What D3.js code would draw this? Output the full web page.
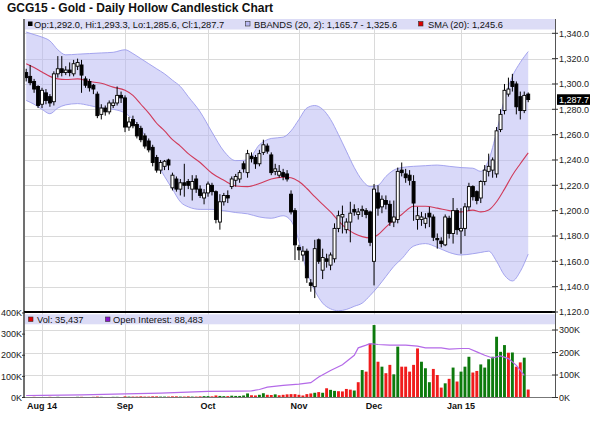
<!DOCTYPE html>
<html><head><meta charset="utf-8">
<script src="https://cdn.jsdelivr.net/npm/d3@7"></script>
<style>
html,body{margin:0;padding:0;background:#fff;}
svg{display:block;font-family:"Liberation Sans",Arial,Helvetica,sans-serif;}
</style></head><body>
<svg id="c" width="590" height="432"></svg>
<script>
// ---------------- DATA ----------------
const title = "GCG15 - Gold - Daily Hollow Candlestick Chart";
const dates = ("2014-07-28 2014-07-29 2014-07-30 2014-07-31 " +
"2014-08-01 2014-08-04 2014-08-05 2014-08-06 2014-08-07 2014-08-08 2014-08-11 2014-08-12 2014-08-13 2014-08-14 2014-08-15 2014-08-18 2014-08-19 2014-08-20 2014-08-21 2014-08-22 2014-08-25 2014-08-26 2014-08-27 2014-08-28 2014-08-29 " +
"2014-09-02 2014-09-03 2014-09-04 2014-09-05 2014-09-08 2014-09-09 2014-09-10 2014-09-11 2014-09-12 2014-09-15 2014-09-16 2014-09-17 2014-09-18 2014-09-19 2014-09-22 2014-09-23 2014-09-24 2014-09-25 2014-09-26 2014-09-29 2014-09-30 " +
"2014-10-01 2014-10-02 2014-10-03 2014-10-06 2014-10-07 2014-10-08 2014-10-09 2014-10-10 2014-10-13 2014-10-14 2014-10-15 2014-10-16 2014-10-17 2014-10-20 2014-10-21 2014-10-22 2014-10-23 2014-10-24 2014-10-27 2014-10-28 2014-10-29 2014-10-30 2014-10-31 " +
"2014-11-03 2014-11-04 2014-11-05 2014-11-06 2014-11-07 2014-11-10 2014-11-11 2014-11-12 2014-11-13 2014-11-14 2014-11-17 2014-11-18 2014-11-19 2014-11-20 2014-11-21 2014-11-24 2014-11-25 2014-11-26 2014-11-28 " +
"2014-12-01 2014-12-02 2014-12-03 2014-12-04 2014-12-05 2014-12-08 2014-12-09 2014-12-10 2014-12-11 2014-12-12 2014-12-15 2014-12-16 2014-12-17 2014-12-18 2014-12-19 2014-12-22 2014-12-23 2014-12-24 2014-12-26 2014-12-29 2014-12-30 2014-12-31 " +
"2015-01-02 2015-01-05 2015-01-06 2015-01-07 2015-01-08 2015-01-09 2015-01-12 2015-01-13 2015-01-14 2015-01-15 2015-01-16 2015-01-20 2015-01-21 2015-01-22 2015-01-23 2015-01-26 2015-01-27 2015-01-28").split(" ");

const open = [1309,1306,1302,1298,
 1284,1293,1290,1286,1308,1312,1309,1311,1308,1314,
 1315,1304,1302,1299,1292,1276,1281,1278,1283,1285,
 1291,1289,1266,1272,1268,1265,1259,1255,1250,1242,
 1232,1235,1240,1218,1225,1217,1222,1223,1217,1225,
 1217,1210,1214,1220,1215,1191,1207,1212,1219,1224,
 1225,1237,1230,1243,1242,1237,1246,1251,1244,1231,
 1228,1230,1229,1213,1200,1171,1165,1168,1143,1140,
 1177,1153,1162,1157,1162,1186,1195,1185,1191,1201,
 1197,1200,1200,1199,1160,1214,1203,1208,1205,1191,
 1193,1232,1229,1228,1223,1193,1193,1190,1198,1195,
 1178,1176,1173,1194,1182,1200,1184,1186,1203,1219,
 1215,1210,1223,1231,1232,1229,1264,1279,1292,1302,
 1300,1290,1279,1292.0];
const high = [1312,1315,1304,1299,
 1297,1296,1292,1310,1322,1322,1314,1317,1319,1320,
 1319,1306,1304,1300,1294,1284,1283,1287,1288,1298,
 1294,1291,1274,1275,1270,1267,1261,1257,1252,1244,
 1240,1240,1241,1230,1227,1225,1237,1225,1228,1228,
 1220,1217,1223,1222,1216,1213,1214,1216,1227,1229,
 1232,1239,1248,1246,1244,1248,1256,1253,1246,1237,
 1236,1233,1232,1216,1202,1173,1172,1170,1146,1177,
 1178,1170,1166,1167,1190,1200,1204,1194,1207,1205,
 1202,1204,1202,1200,1221,1220,1212,1212,1208,1208,
 1234,1238,1233,1232,1228,1203,1199,1198,1203,1197,
 1182,1179,1197,1196,1210,1202,1202,1206,1222,1220,
 1216,1224,1236,1245,1242,1266,1280,1300,1305,1308,
 1302,1294,1294,1293.3];
const low = [1302,1299,1293,1281,
 1281,1284,1282,1283,1305,1306,1307,1306,1306,1311,
 1293,1297,1294,1292,1273,1272,1275,1276,1281,1283,
 1285,1262,1263,1265,1257,1254,1249,1246,1235,1230,
 1229,1232,1232,1216,1215,1212,1211,1217,1208,1214,
 1210,1205,1211,1212,1190,1185,1204,1206,1217,1219,
 1222,1230,1226,1238,1233,1235,1244,1245,1228,1228,
 1226,1224,1223,1197,1161,1161,1160,1143,1136,1131,
 1158,1146,1155,1153,1159,1183,1182,1182,1175,1196,
 1193,1195,1194,1172,1141,1196,1198,1201,1188,1187,
 1190,1227,1222,1220,1192,1185,1188,1186,1187,1176,
 1170,1171,1172,1178,1174,1181,1166,1180,1200,1208,
 1205,1206,1220,1227,1226,1226,1262,1276,1290,1294,
 1276,1272,1277,1285.6];
const close = [1305,1301,1296,1283,
 1295,1287,1285,1308,1312,1309,1311,1309,1316,1317,
 1307,1299,1297,1296,1275,1281,1278,1285,1285,1291,
 1289,1266,1270,1267,1259,1256,1251,1248,1238,1232,
 1238,1239,1236,1228,1217,1222,1220,1220,1223,1217,
 1212,1214,1221,1215,1193,1207,1212,1210,1225,1227,
 1230,1233,1245,1241,1237,1245,1252,1247,1230,1233,
 1231,1227,1225,1199,1173,1169,1168,1147,1141,1170,
 1160,1163,1160,1165,1186,1196,1197,1191,1198,1199,
 1199,1201,1197,1175,1217,1202,1209,1205,1191,1195,
 1231,1230,1226,1224,1206,1196,1195,1194,1195,1179,
 1177,1174,1195,1182,1200,1185,1186,1203,1219,1211,
 1208,1223,1232,1235,1240,1263,1276,1295,1296,1298,
 1282,1279,1291,1287.7];

// volume in thousands of contracts, and up(G)/down(R) colouring
const volume = [2,2,3,2,
 2,2,3,2,3,2,2,2,2,3,3,2,2,3,4,3,2,2,3,3,2,
 5,4,4,4,5,4,4,5,5,4,4,4,5,5,4,4,5,4,4,5,6,
 6,5,9,7,6,6,8,7,7,9,18,10,9,12,19,12,11,14,10,12,14,
 15,15,12,9,15,18,21,24,21,41,
 34,29.5,28,27,38,35,31,68,122,115,
 240,322,159,137,108,145,103,226,137,137,
 115,145,218,159,130,68,127,100,44,63,
 83,133,71,115,137,181,111,118,147,133,
 170,181,270,203,233,199,200,137,156,177,
 35.437];
const volDir = ("RRRR" + "GRRGGRGRGG" + "RRRRRGRGGGR" + "RGRRRRRRRG" + "GRRRGRRGRR" + "GGRRGGRGGG" + "GGRRGGRRGRRR" +
 "RRRRRRGRGR" + "GGRRRRGRGR" + "RGRGRRGGRR" + "RRRGGGRRRG" + "RGRGGGRRGG" + "GGGGGRGRRGR").split("");

// open interest (thousands), read at these bar numbers
const oiBar = [0,4,14,25,34,46,54,57,59,61,65,69,72,74,77,80,83,84,86,87,89,92,96,99,101,105,107,110,112,114,116,118,120,122,124,126];
const oiVal = [9.5,10,12,17.5,21,28.6,30,31.7,38,49,57,63,70,97,128,155,200,235,248,255,251,248,248,243,235,235,229,232,232,216,200,187,197,184,152,105];
const oiLegend = 88483;

// Bollinger bands (20,2) and SMA(20), read at these bar numbers
const indBar = [0,2,4,6,8,10,13,16,19,22,25,27,29,31,33,35,37,39,41,44,47,50,53,56,59,62,65,67,69,71,73,75,77,79,81,83,85,87,89,91,93,95,98,101,104,107,110,113,115,117,119,121,123,125,127];
const bbUpper = [1341,1339,1337,1334,1327,1323,1323.5,1324,1324.5,1325,1327,1324,1320,1316,1312,1308,1303,1298,1290,1278,1262,1247,1239.5,1240,1252,1257,1258,1263,1272,1281,1283,1280,1272,1260,1247,1234,1224,1219,1220,1227,1232,1234,1235,1235.5,1236,1235,1234,1233.5,1231,1240,1262,1288,1306,1317,1325.6];
const bbLower = [1287,1284,1280,1276.5,1281,1283.5,1284.5,1283,1281,1280,1277,1272,1265,1252,1238,1227,1217,1207,1203,1201,1201,1200,1198.5,1197.5,1195,1194,1196,1192,1176,1152,1137,1127,1122.5,1121,1122,1124.5,1127,1133,1140,1148,1156,1162,1172,1174,1171,1167,1165,1166,1167,1168,1160,1149,1144.5,1152,1165.7];
const sma = [1316,1313,1309.5,1306,1304,1303.5,1304,1302,1300.5,1297.5,1295,1291,1284,1277,1269,1263,1256,1251,1245,1238,1229.5,1224,1219.5,1219,1221.5,1225,1226.5,1226,1223,1217.5,1211,1205,1199,1192,1186,1182,1179.5,1178.5,1181,1187,1192.5,1197,1203.5,1203.5,1202,1200,1199,1200.4,1199,1200.5,1207,1217,1228,1237,1245.6];

const priceTicks = [1120,1140,1160,1180,1200,1220,1240,1260,1280,1300,1320,1340];
const monthLabels = ["Aug 14","Sep","Oct","Nov","Dec","Jan 15"];
const volTicks = [0,100,200,300];
const oiTicks = [0,100,200,300,400];

// ---------------- LAYOUT ----------------
const L = 24, R = 555, T = 19, MB = 312, VB = 397.5;
const svg = d3.select("#c");
const fmt1 = d3.format(",.1f"), fmt0 = d3.format(",");

const x = d3.scalePoint().domain(dates).range([26.2, 528.2]);
const y = d3.scaleLinear().domain([1120, 1340]).range([MB, 33.3]);
const yv = d3.scaleLinear().domain([0, 300]).range([VB, 330]);
const yo = d3.scaleLinear().domain([0, 400]).range([VB, 313]);

const defs = svg.append("defs");
defs.append("clipPath").attr("id","cm").append("rect").attr("x",L).attr("y",T).attr("width",R-L).attr("height",MB-T);
defs.append("clipPath").attr("id","cv").append("rect").attr("x",L).attr("y",MB).attr("width",R-L).attr("height",VB-MB);

// title
svg.append("text").attr("x",7).attr("y",11.5).attr("font-size",12).attr("font-weight","bold").attr("fill","#111").text(title);

// grid
const grid = svg.append("g").attr("stroke","#dadada").attr("stroke-width",1);
priceTicks.filter(t=>t>1120).forEach(t=>{
  grid.append("line").attr("x1",L).attr("x2",R).attr("y1",Math.round(y(t))+0.5).attr("y2",Math.round(y(t))+0.5);
});
volTicks.filter(t=>t>0).forEach(t=>{
  grid.append("line").attr("x1",L).attr("x2",R).attr("y1",Math.round(yv(t))+0.5).attr("y2",Math.round(yv(t))+0.5);
});
const monthStarts = dates.filter((d,k)=>k>0 && d.slice(0,7)!==dates[k-1].slice(0,7));
monthStarts.forEach(d=>{
  const xx = Math.round(x(d))+0.5;
  grid.append("line").attr("x1",xx).attr("x2",xx).attr("y1",T).attr("y2",VB);
});

// main panel
const gm = svg.append("g").attr("clip-path","url(#cm)");
const ind = indBar.map((b,k)=>({x:x(dates[b]), u:bbUpper[k], l:bbLower[k], s:sma[k]}));
gm.append("path").datum(ind)
  .attr("d", d3.area().x(d=>d.x).y0(d=>y(d.l)).y1(d=>y(d.u)).curve(d3.curveMonotoneX))
  .attr("fill","#b4b4f4").attr("fill-opacity",0.5);
["u","l"].forEach(key=>{
  gm.append("path").datum(ind)
    .attr("d", d3.line().x(d=>d.x).y(d=>y(d[key])).curve(d3.curveMonotoneX))
    .attr("fill","none").attr("stroke","#9c9cec").attr("stroke-width",0.9);
});
gm.append("path").datum(ind)
  .attr("d", d3.line().x(d=>d.x).y(d=>y(d.s)).curve(d3.curveMonotoneX))
  .attr("fill","none").attr("stroke","#d03a5a").attr("stroke-width",1.1);

const bars = dates.map((d,k)=>({d, o:open[k], h:high[k], l:low[k], c:close[k]}));
const cg = gm.append("g");
cg.selectAll("line.w").data(bars).join("line")
  .attr("x1",b=>x(b.d)).attr("x2",b=>x(b.d))
  .attr("y1",b=>y(b.h)).attr("y2",b=>y(b.l))
  .attr("stroke","#000").attr("stroke-width",1);
const bw = 3;
cg.selectAll("rect.b").data(bars).join("rect")
  .attr("x",b=>x(b.d)-bw/2).attr("width",bw)
  .attr("y",b=>y(Math.max(b.o,b.c)))
  .attr("height",b=>Math.max(0.8, Math.abs(y(b.o)-y(b.c))))
  .attr("fill",b=>b.c>=b.o ? "#fff" : "#000")
  .attr("stroke","#000").attr("stroke-width",0.9);

// main legend
const last = bars[bars.length-1];
svg.append("rect").attr("x",L).attr("y",T).attr("width",R-L).attr("height",10.5).attr("fill","#dcdcf6");
const lg = svg.append("g").attr("font-size",9.3).attr("fill","#111");
lg.append("rect").attr("x",28).attr("y",21.5).attr("width",4.5).attr("height",4.5).attr("fill","#000");
lg.append("text").attr("x",34).attr("y",27.6)
  .text(`Op:${fmt1(last.o)}, Hi:${fmt1(last.h)}, Lo:${fmt1(last.l)}, Cl:${fmt1(last.c)}`);
lg.append("rect").attr("x",245.5).attr("y",21.5).attr("width",4.5).attr("height",4.5).attr("fill","#b8b8f2").attr("stroke","#333").attr("stroke-width",0.6);
lg.append("text").attr("x",254).attr("y",27.6)
  .text(`BBANDS (20, 2): ${fmt1(bbLower[bbLower.length-1])} - ${fmt1(bbUpper[bbUpper.length-1])}`);
lg.append("rect").attr("x",418.5).attr("y",21.5).attr("width",4.5).attr("height",4.5).attr("fill","#dd0000").attr("stroke","#333").attr("stroke-width",0.6);
lg.append("text").attr("x",428).attr("y",27.6).text(`SMA (20): ${fmt1(sma[sma.length-1])}`);

// volume panel
const gv = svg.append("g").attr("clip-path","url(#cv)");
const vb = 2.9;
gv.selectAll("rect").data(dates).join("rect")
  .attr("x",d=>x(d)-vb/2).attr("width",vb)
  .attr("y",(d,k)=>yv(volume[k])).attr("height",(d,k)=>yv(0)-yv(volume[k]))
  .attr("fill",(d,k)=>volDir[k]==="G" ? "#0d7a0d" : "#f01c1c");
gv.append("path").datum(oiBar.map((b,k)=>[x(dates[b]), yo(oiVal[k])]))
  .attr("d", d3.line()).attr("fill","none").attr("stroke","#b46ae8").attr("stroke-width",1.2);

svg.append("rect").attr("x",L).attr("y",314.3).attr("width",R-L).attr("height",10).attr("fill","#dcdcf6");
const vl = svg.append("g").attr("font-size",9.3).attr("fill","#111");
vl.append("rect").attr("x",28.5).attr("y",317).attr("width",4.5).attr("height",4.5).attr("fill","#e00000").attr("stroke","#333").attr("stroke-width",0.6);
vl.append("text").attr("x",37).attr("y",323.2).text(`Vol: ${fmt0(Math.round(volume[volume.length-1]*1000))}`);
vl.append("rect").attr("x",105.5).attr("y",317).attr("width",4.5).attr("height",4.5).attr("fill","#8a10d0").attr("stroke","#333").attr("stroke-width",0.6);
vl.append("text").attr("x",113).attr("y",323.2).text(`Open Interest: ${fmt0(oiLegend)}`);

// frame
svg.append("line").attr("x1",L).attr("x2",L).attr("y1",T).attr("y2",VB).attr("stroke","#707070").attr("stroke-width",2);
svg.append("line").attr("x1",R+0.5).attr("x2",R+0.5).attr("y1",T).attr("y2",VB).attr("stroke","#555").attr("stroke-width",1);
svg.append("line").attr("x1",L).attr("x2",R).attr("y1",MB).attr("y2",MB).attr("stroke","#000").attr("stroke-width",2);
svg.append("line").attr("x1",L).attr("x2",R).attr("y1",VB).attr("y2",VB).attr("stroke","#777").attr("stroke-width",1);

// right price axis
const ax = svg.append("g").attr("font-size",9).attr("fill","#222");
priceTicks.forEach(t=>{
  const yy = y(t);
  ax.append("line").attr("x1",552).attr("x2",558).attr("y1",yy).attr("y2",yy).attr("stroke","#333");
  ax.append("text").attr("x",559).attr("y",yy+3.2).text(fmt1(t));
});
const yl = y(last.c);
ax.append("rect").attr("x",557).attr("y",yl-5.3).attr("width",33).attr("height",10.6).attr("fill","#000");
ax.append("text").attr("x",559).attr("y",yl+3.2).attr("fill","#fff").text(fmt1(last.c));

// volume axes
volTicks.forEach(t=>{
  ax.append("line").attr("x1",552).attr("x2",558).attr("y1",yv(t)).attr("y2",yv(t)).attr("stroke","#333");
  ax.append("text").attr("x",559).attr("y",yv(t)+3.2).text(t+"K");
});
oiTicks.forEach(t=>{
  ax.append("line").attr("x1",22).attr("x2",25).attr("y1",yo(t)).attr("y2",yo(t)).attr("stroke","#333");
  ax.append("text").attr("x",22).attr("y",yo(t)+3.2).attr("text-anchor","end").text(t+"K");
});

// month labels
monthStarts.forEach((d,k)=>{
  svg.append("text").attr("x",x(d)).attr("y",409).attr("text-anchor","middle")
    .attr("font-size",9).attr("font-weight","bold").attr("fill","#111").text(monthLabels[k]);
});
</script>
</body></html>
